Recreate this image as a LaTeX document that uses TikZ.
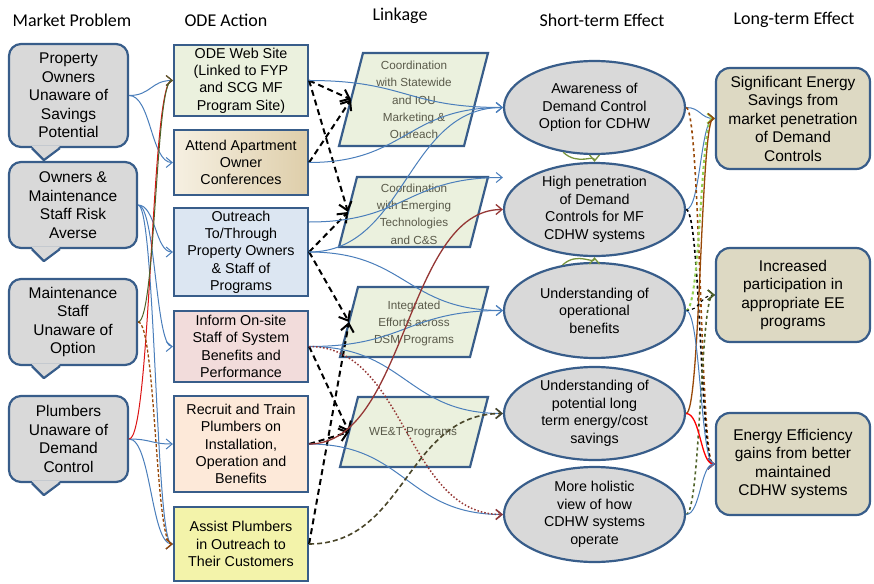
\documentclass[tikz,border=0pt]{standalone}
\usepackage{fontspec}
\setmainfont{Liberation Sans}
\newfontfamily\headfont{Carlito}
\usetikzlibrary{shapes.geometric,arrows.meta,calc}

\definecolor{bord}{RGB}{56,93,138}
\definecolor{probfill}{RGB}{217,217,217}
\definecolor{linkfill}{RGB}{235,241,222}
\definecolor{tanlo}{RGB}{222,206,170}
\definecolor{tanhi}{RGB}{246,240,226}
\definecolor{outfill}{RGB}{220,230,242}
\definecolor{infofill}{RGB}{242,220,219}
\definecolor{trainfill}{RGB}{253,233,217}
\definecolor{assistfill}{RGB}{243,243,170}
\definecolor{longfill}{RGB}{221,217,195}
\definecolor{linktext}{RGB}{90,90,74}
\definecolor{lblue}{RGB}{74,126,187}
\definecolor{dred}{RGB}{149,55,53}
\definecolor{bred}{RGB}{220,20,20}
\definecolor{dgreen}{RGB}{79,98,40}
\definecolor{ogreen}{RGB}{119,147,60}
\definecolor{lgreen}{RGB}{146,208,80}
\definecolor{rust}{RGB}{152,72,7}
\definecolor{dolive}{RGB}{73,69,41}

\tikzset{
	prob/.style={draw=bord, line width=2.2pt, fill=probfill, rounded corners=12pt, align=center, font=\fontsize{15.5}{18.5}\selectfont, inner sep=0pt},
	act/.style={draw=bord, line width=2.2pt, minimum width=134pt, align=center, font=\fontsize{14.3}{17.3}\selectfont, inner sep=0pt},
	lnkshape/.style={draw=bord, line width=2.2pt, fill=linkfill, line join=miter},
	lnktext/.style={align=center, text=linktext, font=\fontsize{11.7}{17.3}\selectfont},
	eff/.style={ellipse, draw=bord, line width=2.2pt, fill=probfill, minimum width=181pt, minimum height=93pt, inner sep=0pt},
	efftext/.style={align=center, font=\fontsize{14.3}{17.5}\selectfont},
	lng/.style={draw=bord, line width=2.2pt, fill=longfill, rounded corners=14pt, minimum width=154pt, align=center, font=\fontsize{15.5}{18.5}\selectfont, inner sep=0pt},
	colhead/.style={font=\headfont\fontsize{18}{21}\selectfont},
	sbend/.style={to path={let \p1=(\tikztostart), \p2=(\tikztotarget) in .. controls ({0.5*\x1+0.5*\x2},\y1) and ({0.5*\x1+0.5*\x2},\y2) .. (\tikztotarget)}},
	thin arr/.style={-{Straight Barb[length=6pt,width=10pt]}},
	bluecon/.style={sbend, thin arr, draw=lblue, line width=1pt},
	dashcon/.style={-{Straight Barb[length=8pt,width=13pt]}, line width=2pt, dash pattern=on 6pt off 4pt},
}

\begin{document}
\begin{tikzpicture}[x=1pt,y=-1pt]
	\useasboundingbox (0,0) rectangle (874,583);
	\node[colhead] (hp) at (72,20) {Market Problem};
	\node[colhead] (ha) at (226,20) {ODE Action};
	\node[colhead] (hl) at (400,16) {Linkage};
	\node[colhead] (hs) at (602,20) {Short-term Effect};
	\node[colhead] (ht) at (794,20) {Long-term Effect};

	\node[prob, minimum width=119pt, minimum height=103pt] (P1) at (68.5,95.5) {Property\\Owners\\Unaware of\\Savings\\Potential};
	\node[prob, minimum width=128pt, minimum height=86pt] (P2) at (73,205) {Owners \&\\Maintenance\\Staff Risk\\Averse};
	\node[prob, minimum width=128pt, minimum height=86pt] (P3) at (73,322) {Maintenance\\Staff\\Unaware of\\Option};
	\node[prob, minimum width=119pt, minimum height=86pt] (P4) at (68.5,439) {Plumbers\\Unaware of\\Demand\\Control};
	\foreach \n in {P1,P2,P3,P4}{
		\fill[probfill] ([xshift=24pt,yshift=2pt]\n.south west) -- ([xshift=36pt,yshift=-12pt]\n.south west) -- ([xshift=52pt,yshift=2pt]\n.south west) -- cycle;
		\draw[bord, line width=2.2pt, line join=round] ([xshift=24pt]\n.south west) -- ([xshift=36pt,yshift=-12pt]\n.south west) -- ([xshift=52pt]\n.south west);
	}

	\node[act, fill=linkfill, minimum height=71pt] (A1) at (241,80.5) {ODE Web Site\\(Linked to FYP\\and SCG MF\\Program Site)};
	\node[act, left color=tanhi, right color=tanlo, minimum height=65pt] (A2) at (241,162.5) {Attend Apartment\\Owner\\Conferences};
	\node[act, fill=outfill, minimum height=88pt] (A3) at (241,252) {Outreach\\To/Through\\Property Owners\\\& Staff of\\Programs};
	\node[act, fill=infofill, minimum height=71pt] (A4) at (241,346.5) {Inform On-site\\Staff of System\\Benefits and\\Performance};
	\node[act, fill=trainfill, minimum height=96pt] (A5) at (241,444) {Recruit and Train\\Plumbers on\\Installation,\\Operation and\\Benefits};
	\node[act, fill=assistfill, minimum height=74pt] (A6) at (241,544) {Assist Plumbers\\in Outreach to\\Their Customers};

	\filldraw[lnkshape] (339,146) -- (363,53) -- (488,53) -- (464,146) -- cycle;
	\node[lnktext] (L1) at (414,100) {Coordination\\with Statewide\\and IOU\\Marketing \&\\Outreach};
	\coordinate (L1w) at (351,99.5);
	\filldraw[lnkshape] (339,247) -- (357,177) -- (488,177) -- (470,247) -- cycle;
	\node[lnktext] (L2) at (414,214) {Coordination\\with Emerging\\Technologies\\and C\&S};
	\coordinate (L2w) at (348,212);
	\filldraw[lnkshape] (340,357) -- (358,287) -- (488,287) -- (470,357) -- cycle;
	\node[lnktext] (L3) at (414,323.5) {Integrated\\Efforts across\\DSM Programs};
	\coordinate (L3w) at (349,322);
	\filldraw[lnkshape] (340,467) -- (358,397) -- (488,397) -- (470,467) -- cycle;
	\node[lnktext] (L4) at (413,433) {WE\&T Programs};
	\coordinate (L4w) at (349,432);

	\node[eff] (E1) at (594.5,107.5) {};
	\node[efftext] (E1t) at (E1) {Awareness of\\Demand Control\\Option for CDHW};
	\node[eff] (E2) at (594.5,209.5) {};
	\node[efftext] (E2t) at (E2) {High penetration\\of Demand\\Controls for MF\\CDHW systems};
	\node[eff, minimum height=95pt] (E3) at (594.5,310.5) {};
	\node[efftext] (E3t) at (E3) {Understanding of\\operational\\benefits};
	\node[eff] (E4) at (594.5,413.5) {};
	\node[efftext] (E4t) at (E4) {Understanding of\\potential long\\term energy/cost\\savings};
	\node[eff, minimum height=95pt] (E5) at (594.5,514.5) {};
	\node[efftext] (E5t) at (E5) {More holistic\\view of how\\CDHW systems\\operate};

	\node[lng, minimum height=101pt] (R1) at (793,118.5) {Significant Energy\\Savings from\\market penetration\\of Demand\\Controls};
	\node[lng, minimum height=94pt] (R2) at (793,295) {Increased\\participation in\\appropriate EE\\programs};
	\node[lng, minimum height=102pt] (R3) at (793,464) {Energy Efficiency\\gains from better\\maintained\\CDHW systems};

	\draw[bluecon] (P1.east) to (A1.west);
	\draw[bluecon] (P1.east) to (A2.west);
	\draw[bluecon] (P2.east) to (A3.west);
	\draw[bluecon] (P2.east) to (A4.west);
	\draw[bluecon] (P2.east) to (A6.west);
	\draw[bluecon] (P4.east) to (A5.west);
	\draw[bluecon] (P4.east) to (A6.west);
	\draw[bluecon, draw=bred] (P4.east) to (A1.west);
	\draw[bluecon, draw=dgreen] (P3.east) to (A1.west);
	\draw[bluecon, draw=rust, line width=1.3pt, dash pattern=on 3pt off 2pt] (P3.east) to (A6.west);

	\draw[dashcon] (A1.east) -- (L1w);
	\draw[dashcon] (A1.east) -- (L2w);
	\draw[dashcon] (A2.east) -- (L1w);
	\draw[dashcon] (A3.east) -- (L2w);
	\draw[dashcon] (A3.east) -- (L3w);
	\draw[dashcon] (A4.east) -- (L4w);
	\draw[dashcon] (A5.east) -- (L4w);
	\draw[dashcon] (A6.east) -- (L3w);

	\draw[bluecon] (A1.east) to (E1.west);
	\draw[bluecon] (A2.east) to (E1.west);
	\draw[bluecon] (A3.east) to (E1.west);
	\draw[bluecon] ([yshift=30pt]A3.east) to ([yshift=32pt]E2.west);
	\draw[bluecon] (A3.east) to (E3.west);
	\draw[bluecon] (A4.east) to (E3.west);
	\draw[bluecon] (A4.east) to (E4.west);
	\draw[bluecon] (A5.east) to (E5.west);
	\draw[bluecon, draw=dred, line width=1.3pt] (A5.east) to (E2.west);
	\draw[bluecon, draw=dred, line width=1.5pt, dotted] (A4.east) to (E5.west);
	\draw[bluecon, draw=dolive, line width=1.6pt, dash pattern=on 5pt off 3pt] (A6.east) to (E4.west);

	\draw[ogreen, line width=1.3pt, thin arr] (E1.235) .. controls +(15,14) and +(0,-8) .. (E2.north);
	\draw[ogreen, line width=1.3pt, thin arr] (E3.125) .. controls +(15,-14) and +(0,8) .. (E2.south);

	\draw[bluecon] (E1.east) to (R1.west);
	\draw[bluecon] (E2.east) to (R1.west);
	\draw[bluecon, draw=rust, line width=1.6pt, dashed] (E1.east) to (R3.west);
	\draw[bluecon, draw=black, line width=1.6pt, dashed] (E2.east) to (R3.west);
	\draw[bluecon, draw=lgreen, line width=2pt, dashed] (E3.east) to (R1.west);
	\draw[bluecon, draw=rust, line width=1.3pt] (E4.east) to (R1.west);
	\draw[bluecon, draw=black, line width=1.1pt, dashed] (E3.east) to (R2.west);
	\draw[bluecon, draw=dgreen, line width=1.6pt, dashed] (E5.east) to (R2.west);
	\draw[bluecon] (E3.east) to (R3.west);
	\draw[bluecon, draw=red, line width=1.3pt] (E4.east) to (R3.west);
	\draw[bluecon] (E5.east) to (R3.west);
\end{tikzpicture}
\end{document}
